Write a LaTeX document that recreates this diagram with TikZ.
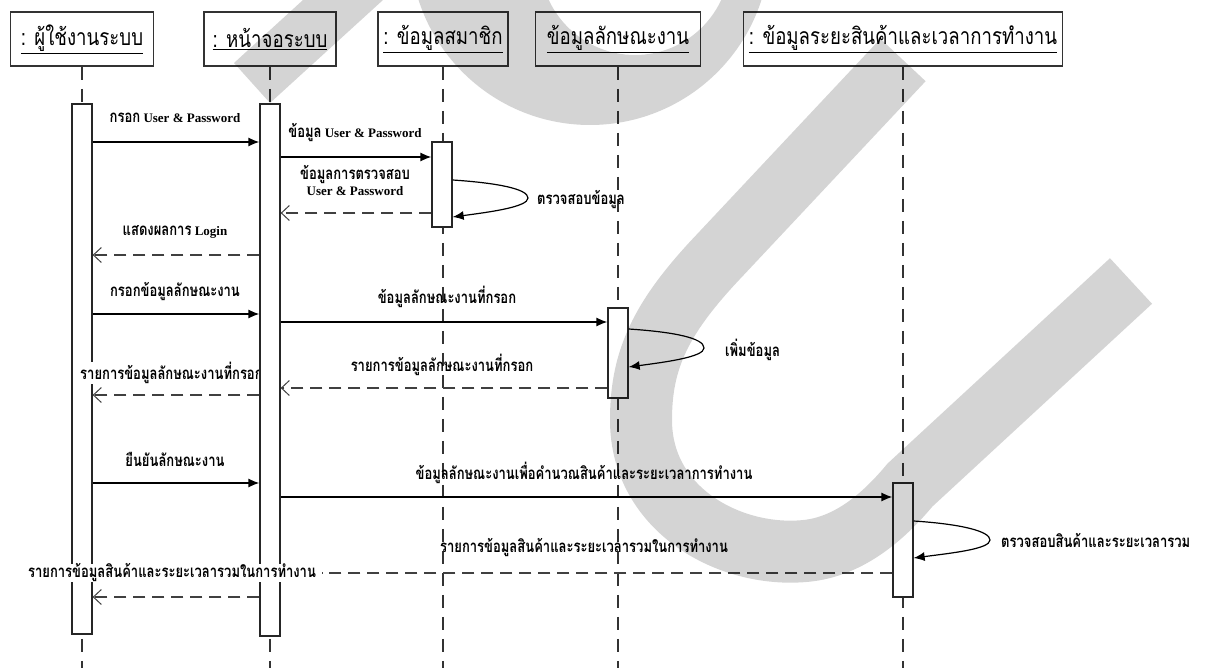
\documentclass[tikz,border=0pt]{standalone}
\usepackage{fontspec}
\setmainfont{Liberation Serif}
\newfontfamily\thaimsg[Script=Thai,FakeStretch=0.77,Scale=1.3]{Loma}
\newfontfamily\thaihdr[Script=Thai,FakeStretch=0.81]{Loma}
\usetikzlibrary{arrows.meta}

\tikzset{
  hdr/.style={draw=black!80, line width=1.8pt, fill=white, minimum height=54pt,
    inner sep=0pt, font=\thaihdr\fontsize{23pt}{26pt}\selectfont},
  life/.style={draw=black!80, line width=1.5pt, dash pattern=on 13pt off 9pt},
  bar/.style={draw=black!85, line width=1.3pt, fill=white, minimum width=20pt, inner sep=0pt},
  msg/.style={inner sep=1pt, font=\fontsize{13pt}{16pt}\selectfont\bfseries, align=center},
  sync/.style={draw=black, line width=1.3pt, -{Latex[length=11pt,width=9pt]}},
  ret/.style={draw=black!75, line width=1.4pt, dash pattern=on 12pt off 7pt,
    -{Straight Barb[length=8pt,width=15pt,line width=1pt]}},
  retline/.style={draw=black!75, line width=1.4pt, dash pattern=on 12pt off 7pt},
  selfcall/.style={draw=black, line width=1.2pt, -{Latex[length=11pt,width=9pt]}},
  greyband/.style={fill=black, fill opacity=0.17, draw=none},
}

\begin{document}
\begin{tikzpicture}[x=1pt,y=-1pt]
\useasboundingbox (0,0) rectangle (1208,668);
\clip (0,0) rectangle (1208,668);
\fill[white] (0,0) rectangle (1208,668);

% object headers
\node[hdr, minimum width=143pt] (hA) at (82,39)  {\underline{: ผู้ใช้งานระบบ}};
\node[hdr, minimum width=132pt] (hB) at (270,39) {\underline{: หน้าจอระบบ}};
\node[hdr, minimum width=130pt] (hC) at (443,39) {\underline{: ข้อมูลสมาชิก}};
\node[hdr, minimum width=165pt] (hD) at (618,39) {\underline{ข้อมูลลักษณะงาน}};
\node[hdr, minimum width=319pt] (hE) at (903,39) {\underline{: ข้อมูลระยะสินค้าและเวลาการทำงาน}};

% lifelines
\coordinate (bot) at (0,668);
\draw[life] (hA.south) -- (hA.south |- bot);
\draw[life] (hB.south) -- (hB.south |- bot);
\draw[life] (hC.south) -- (hC.south |- bot);
\draw[life] (hD.south) -- (hD.south |- bot);
\draw[life] (hE.south) -- (hE.south |- bot);

% message levels
\coordinate (m1) at (0,142);
\coordinate (m2) at (0,157);
\coordinate (m3) at (0,213);
\coordinate (s1a) at (0,180);
\coordinate (s1b) at (0,217);
\coordinate (m5) at (0,255);
\coordinate (m6) at (0,314);
\coordinate (m7) at (0,322);
\coordinate (s2a) at (0,329);
\coordinate (s2b) at (0,367);
\coordinate (m9) at (0,388);
\coordinate (m10) at (0,395);
\coordinate (m11) at (0,483);
\coordinate (m12) at (0,497);
\coordinate (s3a) at (0,521);
\coordinate (s3b) at (0,558);
\coordinate (m14) at (0,573);
\coordinate (m15) at (0,597);

% activation bars
\node[bar, minimum height=530pt] (bA) at (82,369) {};
\node[msg, fill=white, anchor=west, inner sep=0pt] (l10) at (80,373) {\thaimsg รายการข้อมูลลักษณะงานที่กรอก};
\node[bar, minimum height=532pt] (bB) at (270,370) {};
\node[bar, minimum height=85pt]  (bC) at (442,184.5) {};
\node[bar, minimum height=90pt]  (bD) at (618,353) {};
\node[bar, minimum height=114pt] (bE) at (903,540) {};

% login
\draw[sync] (bA.east |- m1) -- (bB.west |- m1);
\node[msg] (l1) at (175,118) {{\thaimsg กรอก} User \& Password};
\draw[sync] (bB.east |- m2) -- (bC.west |- m2);
\node[msg] (l2) at (355,133) {{\thaimsg ข้อมูล} User \& Password};
\draw[ret] (bC.west |- m3) -- (bB.east |- m3);
\node[msg] (l3) at (355,181) {{\thaimsg ข้อมูลการตรวจสอบ}\\ User \& Password};
\draw[selfcall] (bC.east |- s1a) .. controls (498,183) and (528,189) .. (528,198)
  .. controls (528,207) and (490,212) .. (bC.east |- s1b);
\node[msg, anchor=west] (l4) at (536,200) {\thaimsg ตรวจสอบข้อมูล};
\draw[ret] (bB.west |- m5) -- (bA.east |- m5);
\node[msg] (l5) at (175,232) {{\thaimsg แสดงผลการ} Login};

% job details
\draw[sync] (bA.east |- m6) -- (bB.west |- m6);
\node[msg] (l6) at (175,292) {\thaimsg กรอกข้อมูลลักษณะงาน};
\draw[sync] (bB.east |- m7) -- (bD.west |- m7);
\node[msg] (l7) at (447,297) {\thaimsg ข้อมูลลักษณะงานที่กรอก};
\draw[selfcall] (bD.east |- s2a) .. controls (674,332) and (704,338) .. (704,348)
  .. controls (704,357) and (666,362) .. (bD.east |- s2b);
\node[msg, anchor=west] (l8) at (724,350) {\thaimsg เพิ่มข้อมูล};
\draw[ret] (bD.west |- m9) -- (bB.east |- m9);
\node[msg] (l9) at (442,365) {\thaimsg รายการข้อมูลลักษณะงานที่กรอก};
\draw[ret] (bB.west |- m10) -- (bA.east |- m10);

% confirmation
\draw[sync] (bA.east |- m11) -- (bB.west |- m11);
\node[msg] (l11) at (175,459) {\thaimsg ยืนยันลักษณะงาน};
\draw[sync] (bB.east |- m12) -- (bE.west |- m12);
\node[msg] (l12) at (584,473) {\thaimsg ข้อมูลลักษณะงานเพื่อคำนวณสินค้าและระยะเวลาการทำงาน};
\draw[selfcall] (bE.east |- s3a) .. controls (960,524) and (990,531) .. (990,540)
  .. controls (990,549) and (952,553) .. (bE.east |- s3b);
\node[msg, anchor=west] (l13) at (1000,540) {\thaimsg ตรวจสอบสินค้าและระยะเวลารวม};
\node[msg] (l14) at (584,548) {\thaimsg รายการข้อมูลสินค้าและระยะเวลารวมในการทำงาน};
\node[msg, fill=white, inner ysep=0pt, inner xsep=6pt] (l14b) at (172,573) {\thaimsg รายการข้อมูลสินค้าและระยะเวลารวมในการทำงาน};
\draw[retline] (bE.west |- m14) -- (l14b.east);
\draw[ret] (bB.west |- m15) -- (bA.east |- m15);

% grey watermark strokes
\fill[greyband] (303,0) -- (383,0) -- (270,103) -- (234,63) -- cycle;
\fill[greyband, even odd rule] (590,-55) circle [radius=180]
  (635,-40) circle [radius=95];
\draw[draw=black, draw opacity=0.17, line width=62pt, line cap=butt]
  (903,60) -- (720,255) .. controls (660,318) and (641,360) .. (641,420)
  .. controls (641,510) and (730,558) .. (805,551)
  .. controls (850,547) and (885,515) .. (910,485) -- (1131,281);
\end{tikzpicture}
\end{document}
